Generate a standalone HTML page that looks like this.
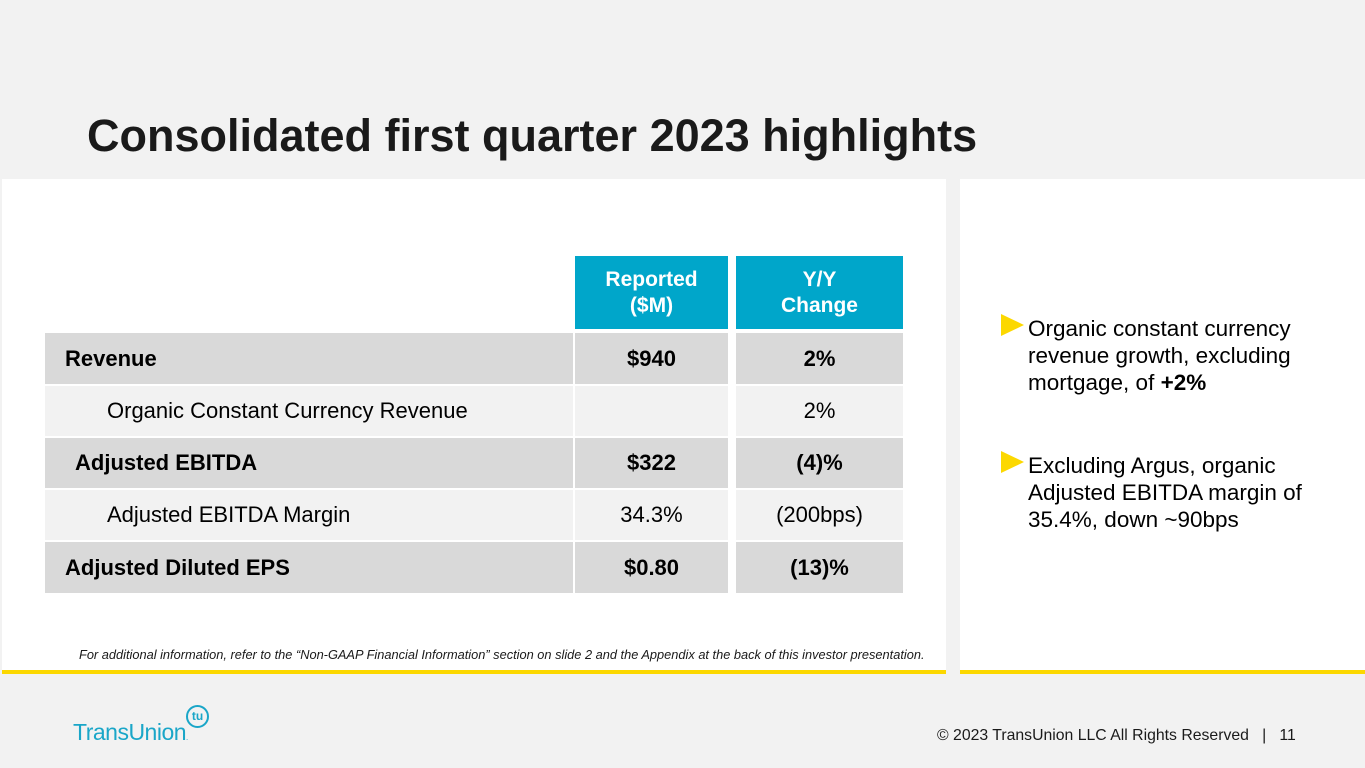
<!DOCTYPE html>
<html><head><meta charset="utf-8"><style>
*{margin:0;padding:0;box-sizing:border-box}
body{width:1365px;height:768px;background:#f2f2f2;font-family:"Liberation Sans",Arial,sans-serif;position:relative;overflow:hidden;color:#000}
.abs{position:absolute}
.panel{background:#fff;border-bottom:4px solid #fcd800}
.cell{position:absolute;display:flex;align-items:center;font-size:22px}
.c{justify-content:center}
.b{font-weight:bold}
.hd{background:#00a6ca;color:#fff;font-weight:bold;text-align:center;justify-content:center;line-height:26px;font-size:21px}
.dk{background:#d9d9d9}.lt{background:#f2f2f2}
.bul{position:absolute;left:1028px;font-size:22.5px;line-height:27px;color:#000}
.tri{position:absolute;left:1001px;width:0;height:0;border-top:11px solid transparent;border-bottom:11px solid transparent;border-left:23px solid #fcd800}
</style></head><body>
<div class="abs" style="left:87px;top:110px;font-size:45px;font-weight:bold;color:#1a1a1a">Consolidated first quarter 2023 highlights</div>
<div class="abs panel" style="left:2px;top:179px;width:944px;height:495px"></div>
<div class="abs panel" style="left:960px;top:179px;width:405px;height:495px"></div>

<div>
<div class="cell hd" style="left:575px;top:256px;width:153px;height:73px">Reported<br>($M)</div>
<div class="cell hd" style="left:736px;top:256px;width:167px;height:73px">Y/Y<br>Change</div>

<div class="cell dk b" style="left:45px;top:333px;width:528px;height:51px;padding-left:20px">Revenue</div>
<div class="cell dk b c" style="left:575px;top:333px;width:153px;height:51px">$940</div>
<div class="cell dk b c" style="left:736px;top:333px;width:167px;height:51px">2%</div>

<div class="cell lt" style="left:45px;top:386px;width:528px;height:50px;padding-left:62px">Organic Constant Currency Revenue</div>
<div class="cell lt c" style="left:575px;top:386px;width:153px;height:50px"></div>
<div class="cell lt c" style="left:736px;top:386px;width:167px;height:50px">2%</div>

<div class="cell dk b" style="left:45px;top:438px;width:528px;height:50px;padding-left:30px">Adjusted EBITDA</div>
<div class="cell dk b c" style="left:575px;top:438px;width:153px;height:50px">$322</div>
<div class="cell dk b c" style="left:736px;top:438px;width:167px;height:50px">(4)%</div>

<div class="cell lt" style="left:45px;top:490px;width:528px;height:50px;padding-left:62px">Adjusted EBITDA Margin</div>
<div class="cell lt c" style="left:575px;top:490px;width:153px;height:50px">34.3%</div>
<div class="cell lt c" style="left:736px;top:490px;width:167px;height:50px">(200bps)</div>

<div class="cell dk b" style="left:45px;top:542px;width:528px;height:51px;padding-left:20px">Adjusted Diluted EPS</div>
<div class="cell dk b c" style="left:575px;top:542px;width:153px;height:51px">$0.80</div>
<div class="cell dk b c" style="left:736px;top:542px;width:167px;height:51px">(13)%</div>
</div>

<div class="abs" style="left:79px;top:647px;font-size:12.8px;font-style:italic;color:#1a1a1a">For additional information, refer to the “Non-GAAP Financial Information” section on slide 2 and the Appendix at the back of this investor presentation.</div>

<div class="tri" style="top:314px"></div>
<div class="bul" style="top:315px">Organic constant currency<br>revenue growth, excluding<br>mortgage, of <b>+2%</b></div>
<div class="tri" style="top:451px"></div>
<div class="bul" style="top:452px">Excluding Argus, organic<br>Adjusted EBITDA margin of<br>35.4%, down ~90bps</div>

<div class="abs" style="left:73px;top:719px;font-size:23px;color:#1aa6c8;letter-spacing:-0.5px">TransUnion<span style="font-size:8px">.</span></div>
<div class="abs" style="left:186px;top:705px;width:23px;height:23px;border:2px solid #1aa6c8;border-radius:50%;color:#1aa6c8;font-size:12px;font-weight:bold;text-align:center;line-height:19px">tu</div>
<div class="abs" style="left:937px;top:727px;font-size:15.8px;color:#1a1a1a">© 2023 TransUnion LLC All Rights Reserved &nbsp; | &nbsp; 11</div>
</body></html>
